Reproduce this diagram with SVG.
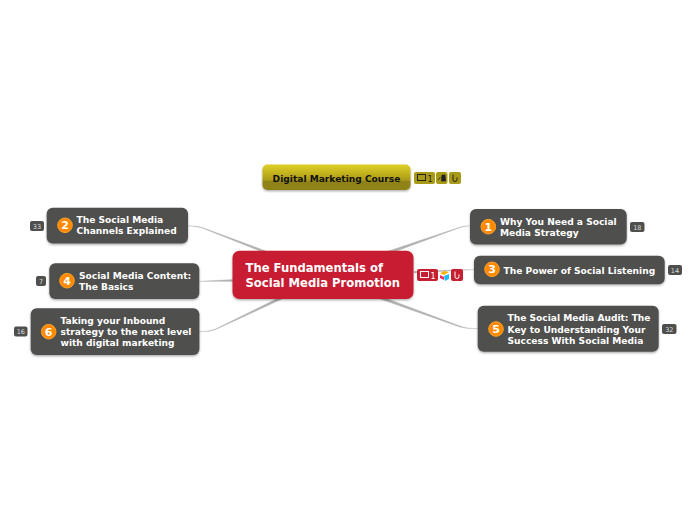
<svg xmlns="http://www.w3.org/2000/svg" width="696" height="520" viewBox="0 0 696 520">
<style>
text{font-family:"DejaVu Sans",sans-serif}
.n{fill:#4f4f4d;filter:url(#s)}
.t{fill:#fff;font-weight:bold;font-size:9.1px}
.c{fill:#ff8a00;stroke:#ffa229;stroke-width:1}
.d{fill:#fff;font-weight:bold;font-size:11px;text-anchor:middle}
.b{fill:#4f4f4d}
.bt{fill:#ddd;font-size:6.5px;text-anchor:middle}
.l{fill:#b2b2b0;stroke:#b2b2b0;stroke-width:0.3}
.ic{fill:none;stroke:#fff;stroke-width:1}
.ik{fill:none;stroke:#222;stroke-width:1}
</style>
<defs>
<filter id="s" x="-10%" y="-15%" width="120%" height="135%"><feDropShadow dx="0" dy="1.2" stdDeviation="1" flood-color="#000" flood-opacity="0.35"/></filter>
<linearGradient id="y" x1="0" y1="0" x2="0" y2="1"><stop offset="0" stop-color="#e0d028"/><stop offset="0.5" stop-color="#b5a51a"/><stop offset="0.62" stop-color="#a89a16"/><stop offset="0.65" stop-color="#8f8212"/><stop offset="1" stop-color="#8f8212"/></linearGradient>
</defs>
<g id="connectors">
<path class="l" d="M266 251 L203 227.700 Q197 225.700 188 225.700 Q197 226.300 202.700 228.300 L265 253 Z"/>
<path class="l" d="M233 279.500 L199 281.300 L233 281.500 Z"/>
<path class="l" d="M279 297.500 L216 328.700 Q209 331.700 199 331.700 Q209 332.300 216.300 329.300 L282 299 Z"/>
<path class="l" d="M387 251.500 L458 227.700 Q463 225.700 470 225.700 Q463 226.300 458.300 228.300 L390 253.500 Z"/>
<path class="l" d="M414 271.300 L462 269.700 L474 269.700 L462 270.300 L414 273 Z"/>
<path class="l" d="M384 297.500 L460 326 Q467 328.700 478 328.700 Q467 329.300 459.700 327 L380 299 Z"/>
</g>
<g id="node-course">
<rect x="262.500" y="164.500" width="148" height="25.500" rx="5" fill="url(#y)" filter="url(#s)"/>
<text x="336.500" y="181.500" font-size="9.100" font-weight="bold" fill="#111" text-anchor="middle">Digital Marketing Course</text>
<rect x="414" y="172" width="21" height="12" rx="2" fill="#a89a16"/>
<rect x="417.500" y="174.500" width="8" height="6" class="ik"/>
<text x="430" y="181.500" font-size="8" fill="#222" text-anchor="middle">1</text>
<rect x="436" y="172" width="11.500" height="12" rx="2" fill="#a89a16"/>
<path d="M438 180 L440.500 177 M442 175 L445 175 L445.500 181 L441.500 181 Z" fill="#222" stroke="#222" stroke-width="0.800"/>
<rect x="449" y="172" width="12" height="12" rx="2" fill="#a89a16"/>
<path class="ik" d="M453 174.500 V179.500 Q453 181.500 455 181.500 Q457 181.500 457 179.500 V177.500"/>
</g>
<g id="node-center">
<rect x="232.500" y="250.700" width="181" height="48.300" rx="7" fill="#c71f32" filter="url(#s)"/>
<text x="245.500" y="272" font-size="11.600" font-weight="bold" fill="#fff">The Fundamentals of</text>
<text x="245.500" y="287" font-size="11.600" font-weight="bold" fill="#fff">Social Media Promotion</text>
<rect x="417" y="269" width="21" height="12" rx="2" fill="#c71f32"/>
<rect x="420.500" y="271.500" width="8" height="6" class="ic"/>
<text x="433" y="278.500" font-size="8" fill="#fff" text-anchor="middle">1</text>
<path d="M440 273.500 L444 271 L449 272 L444 275 Z" fill="#fcb400"/>
<path d="M444 276 L449 274 L449 279 L445 281 Z" fill="#18bfff"/>
<path d="M440 275 L444 277 L444 280 L440 278 Z" fill="#f82b60"/>
<rect x="451" y="269" width="12" height="12" rx="2" fill="#c71f32"/>
<path class="ic" d="M455 271.500 V276.500 Q455 278.500 457 278.500 Q459 278.500 459 276.500 V274.500"/>
</g>
<g id="node-1">
<rect class="n" x="470" y="209" width="156.700" height="35.500" rx="6"/>
<circle class="c" cx="488.300" cy="226.700" r="7.300"/>
<text class="d" x="488.300" y="230.700">1</text>
<text class="t" x="500" y="225">Why You Need a Social</text>
<text class="t" x="500" y="236">Media Strategy</text>
<rect class="b" x="630" y="222" width="14.500" height="10" rx="2"/>
<text class="bt" x="637.300" y="229.500">18</text>
</g>
<g id="node-2">
<rect class="n" x="46.700" y="207.700" width="141.300" height="35.700" rx="6"/>
<circle class="c" cx="65" cy="225.300" r="7.300"/>
<text class="d" x="65" y="229.300">2</text>
<text class="t" x="76.500" y="223">The Social Media</text>
<text class="t" x="76.500" y="234">Channels Explained</text>
<rect class="b" x="30" y="221" width="14" height="10" rx="2"/>
<text class="bt" x="37" y="228.500">33</text>
</g>
<g id="node-3">
<rect class="n" x="474" y="255.700" width="190.700" height="28.600" rx="6"/>
<circle class="c" cx="492" cy="269.300" r="7.300"/>
<text class="d" x="492" y="273.300">3</text>
<text class="t" x="503.500" y="274">The Power of Social Listening</text>
<rect class="b" x="668" y="265" width="14" height="10" rx="2"/>
<text class="bt" x="675" y="272.500">14</text>
</g>
<g id="node-4">
<rect class="n" x="49.300" y="263.300" width="150" height="35.700" rx="6"/>
<circle class="c" cx="67" cy="280.700" r="7.300"/>
<text class="d" x="67" y="284.700">4</text>
<text class="t" x="79" y="279">Social Media Content:</text>
<text class="t" x="79" y="290">The Basics</text>
<rect class="b" x="36" y="276" width="10" height="10" rx="2"/>
<text class="bt" x="41" y="283.500">7</text>
</g>
<g id="node-5">
<rect class="n" x="477.700" y="305.700" width="181" height="46" rx="6"/>
<circle class="c" cx="496" cy="329" r="7.300"/>
<text class="d" x="496" y="333">5</text>
<text class="t" x="507.500" y="321">The Social Media Audit: The</text>
<text class="t" x="507.500" y="332.500">Key to Understanding Your</text>
<text class="t" x="507.500" y="344">Success With Social Media</text>
<rect class="b" x="662" y="324" width="14.500" height="10" rx="2"/>
<text class="bt" x="669.300" y="331.500">32</text>
</g>
<g id="node-6">
<rect class="n" x="30.700" y="308.300" width="168.700" height="46.700" rx="6"/>
<circle class="c" cx="48.700" cy="331.700" r="7.300"/>
<text class="d" x="48.700" y="335.700">6</text>
<text class="t" x="60.500" y="324">Taking your Inbound</text>
<text class="t" x="60.500" y="335">strategy to the next level</text>
<text class="t" x="60.500" y="346">with digital marketing</text>
<rect class="b" x="14" y="326.500" width="13.500" height="10" rx="2"/>
<text class="bt" x="20.800" y="334">16</text>
</g>
</svg>
